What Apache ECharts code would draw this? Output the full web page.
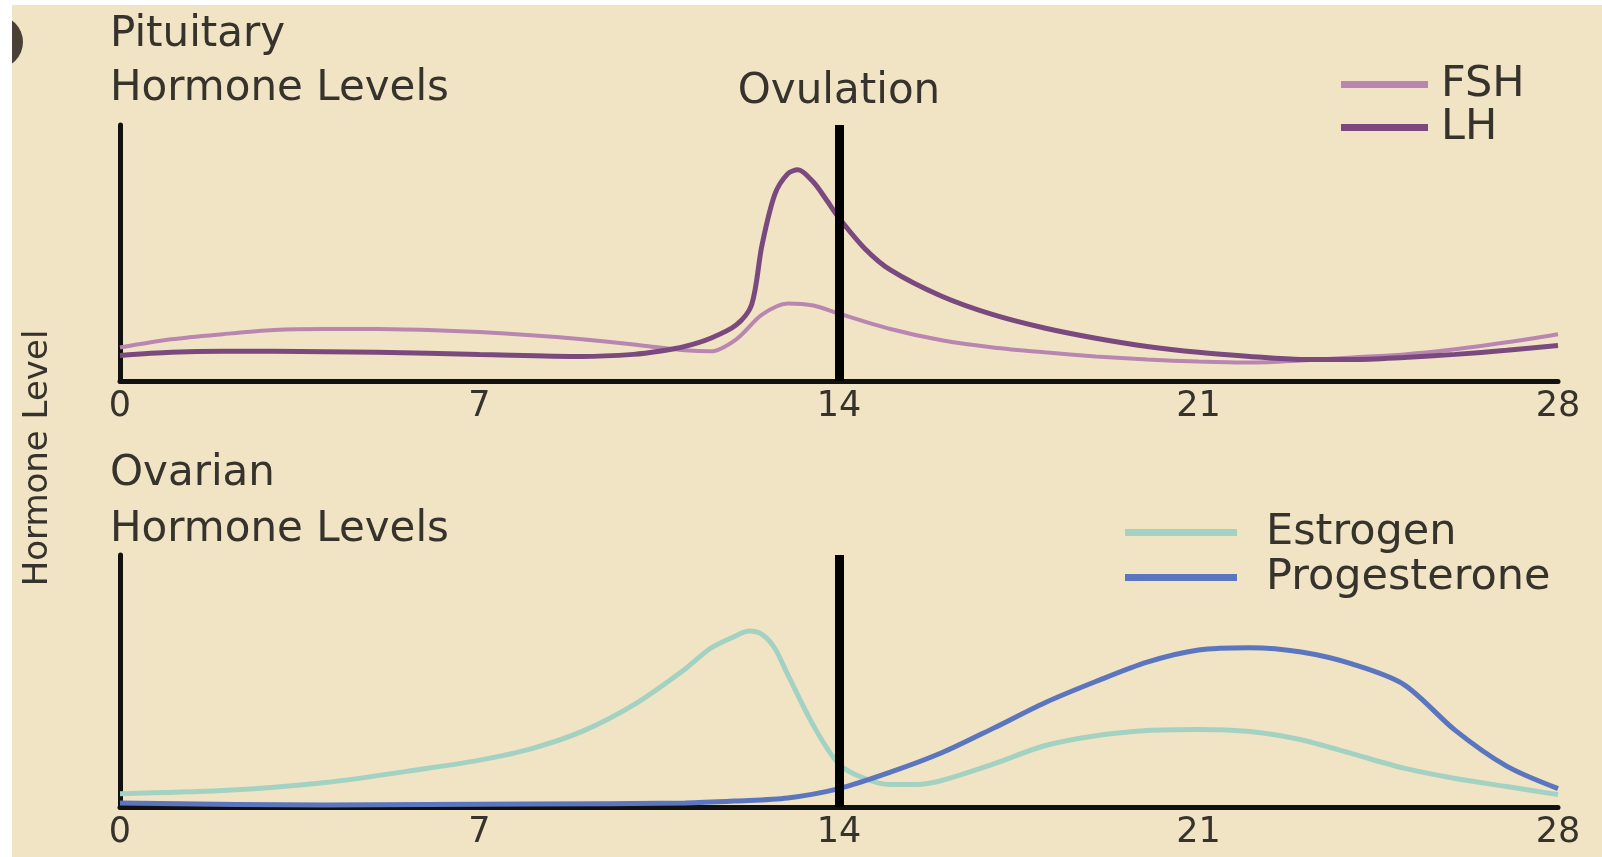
<!DOCTYPE html>
<html>
<head>
<meta charset="utf-8">
<script src="https://cdn.jsdelivr.net/npm/echarts@6/dist/echarts.min.js"></script>
<style>
html,body{margin:0;padding:0;background:#ffffff;}
#chart{width:1602px;height:857px;}
</style>
</head>
<body>
<div id="chart"></div>
<script>
// ---------- data ----------
var dayTicks = [0, 7, 14, 21, 28];
var ovulationDay = 14;

var fshDays   = [0,1,2,3,4,5,6,7,8,9,10,10.5,11,11.5,12,12.5,13,13.5,14,15,16,17,18,19,20,21,22,23,24,25,26,27,28];
var fshValues = [13.1,16.3,18.3,19.9,20.3,20.3,19.9,19.1,17.9,16.3,14.3,13.1,12.0,11.6,16.3,25.9,30.3,29.5,26.3,20.3,15.9,13.1,11.2,9.6,8.4,7.6,7.2,8.0,9.2,10.4,12.4,15.1,18.3];

var lhDays   = [0,1,2,3,5,7,9,10,10.5,11,11.5,12,12.3,12.5,12.75,13,13.2,13.5,13.75,14,14.5,15,16,17,18,19,20,21,22,23,24,25,26,27,28];
var lhValues = [10.0,11.2,11.6,11.6,11.2,10.4,9.6,10.4,11.6,13.5,16.7,21.9,29.9,53.0,72.9,80.9,82.5,77.7,70.9,63.7,51.8,43.4,33.1,25.9,20.7,16.7,13.5,11.2,9.6,8.4,8.4,9.2,10.4,12.0,13.9];

var estDays   = [0,2,4,6,7,8,9,10,11,11.5,12,12.25,12.5,12.75,13,13.5,14,14.5,15,15.5,16,17,18,19,20,21,22,23,24,25,26,27,28];
var estValues = [5.3,6.5,9.7,15.4,18.6,23.1,30.0,40.5,54.7,63.0,68.0,69.8,68.5,63.0,52.6,32.4,17.0,11.3,8.9,8.9,10.5,17.0,24.3,28.3,30.4,30.8,30.0,26.7,21.1,15.4,11.3,8.1,4.9];

var proDays   = [0,4,8,11,12,13,14,15,16,17,18,19,20,21,22,23,24,25,26,27,28];
var proValues = [1.6,0.8,1.2,1.6,2.4,3.6,7.3,13.8,21.5,31.2,41.3,49.8,57.5,62.3,63.2,61.5,56.7,48.6,30.4,16.2,7.3];

function pairs(xs, ys){ return xs.map(function(x,i){ return [x, ys[i]]; }); }

// ---------- styles ----------
var FONT = 'DejaVu Sans';
var TXT = '#36332c';
var BG = '#f1e4c5';
var cFSH = '#b886b1', cLH = '#7a4a7e', cEST = '#a3d2c3', cPRO = '#5b76be';

function xAxisCfg(idx){
  return {
    type:'value', gridIndex:idx, min:0, max:28, interval:7,
    axisLine:{show:true, onZero:false, lineStyle:{color:'#111', width:5}},
    axisTick:{show:false}, splitLine:{show:false},
    axisLabel:{show:true, margin:8, fontFamily:FONT, fontSize:35, color:TXT,
      formatter:function(v){ return dayTicks.indexOf(v) >= 0 ? String(v) : ''; }}
  };
}
function yAxisCfg(idx){
  return {
    type:'value', gridIndex:idx, min:0, max:100,
    axisLine:{show:true, lineStyle:{color:'#111', width:5}},
    axisTick:{show:false}, splitLine:{show:false}, axisLabel:{show:false}
  };
}
function ovLine(label){
  return {
    silent:true, symbol:['none','none'],
    lineStyle:{color:'#000', width:9, type:'solid'},
    label:{show:label, position:'end', distance:12, formatter:'Ovulation',
      fontFamily:FONT, fontSize:42, color:TXT},
    data:[{xAxis:ovulationDay}]
  };
}
function lineSeries(name, gi, xs, ys, color, width, z, ml){
  var s = {name:name, type:'line', xAxisIndex:gi, yAxisIndex:gi, data:pairs(xs,ys),
    smooth:0.3, showSymbol:false, color:color, lineStyle:{width:width, color:color}, z:z};
  if (ml) s.markLine = ml;
  return s;
}

var chart = echarts.init(document.getElementById('chart'), null, {renderer:'canvas'});
chart.setOption({
  backgroundColor: BG,
  animation:false,
  grid:[
    {left:120, right:44, top:125, height:256},
    {left:120, right:44, top:555, height:252}
  ],
  xAxis:[xAxisCfg(0), xAxisCfg(1)],
  yAxis:[yAxisCfg(0), yAxisCfg(1)],
  legend:[
    {data:['FSH','LH'], orient:'vertical', left:1336, top:58, itemWidth:87, itemHeight:7, itemGap:0,
      icon:'rect', textStyle:{fontFamily:FONT, fontSize:43, color:TXT, lineHeight:43, padding:[0,0,0,8]}},
    {data:['Estrogen','Progesterone'], orient:'vertical', left:1120, top:505, itemWidth:112, itemHeight:7, itemGap:0,
      icon:'rect', textStyle:{fontFamily:FONT, fontSize:43, color:TXT, lineHeight:45, padding:[0,0,0,24]}}
  ],
  series:[
    lineSeries('FSH', 0, fshDays, fshValues, cFSH, 4, 3, null),
    lineSeries('LH', 0, lhDays, lhValues, cLH, 5, 4, ovLine(true)),
    lineSeries('Estrogen', 1, estDays, estValues, cEST, 5, 3, null),
    lineSeries('Progesterone', 1, proDays, proValues, cPRO, 5, 4, ovLine(false))
  ],
  graphic:[
    {type:'circle', shape:{cx:-4, cy:42, r:27}, style:{fill:'#4a4036'}, z:1},
    {type:'rect', shape:{x:0, y:0, width:12, height:857}, style:{fill:'#ffffff'}, z:2},
    {type:'rect', shape:{x:0, y:0, width:1602, height:5}, style:{fill:'#ffffff'}, z:2},
    {type:'text', left:110, top:14, style:{text:'Pituitary', font:'42px "DejaVu Sans"', fill:TXT}},
    {type:'text', left:110, top:68, style:{text:'Hormone Levels', font:'42px "DejaVu Sans"', fill:TXT}},
    {type:'text', left:110, top:453, style:{text:'Ovarian', font:'42px "DejaVu Sans"', fill:TXT}},
    {type:'text', left:110, top:509, style:{text:'Hormone Levels', font:'42px "DejaVu Sans"', fill:TXT}},
    {type:'text', x:38, y:458, rotation:Math.PI/2,
      style:{text:'Hormone Level', font:'34px "DejaVu Sans"', fill:TXT, align:'center', verticalAlign:'middle'}}
  ]
});
</script>
</body>
</html>
